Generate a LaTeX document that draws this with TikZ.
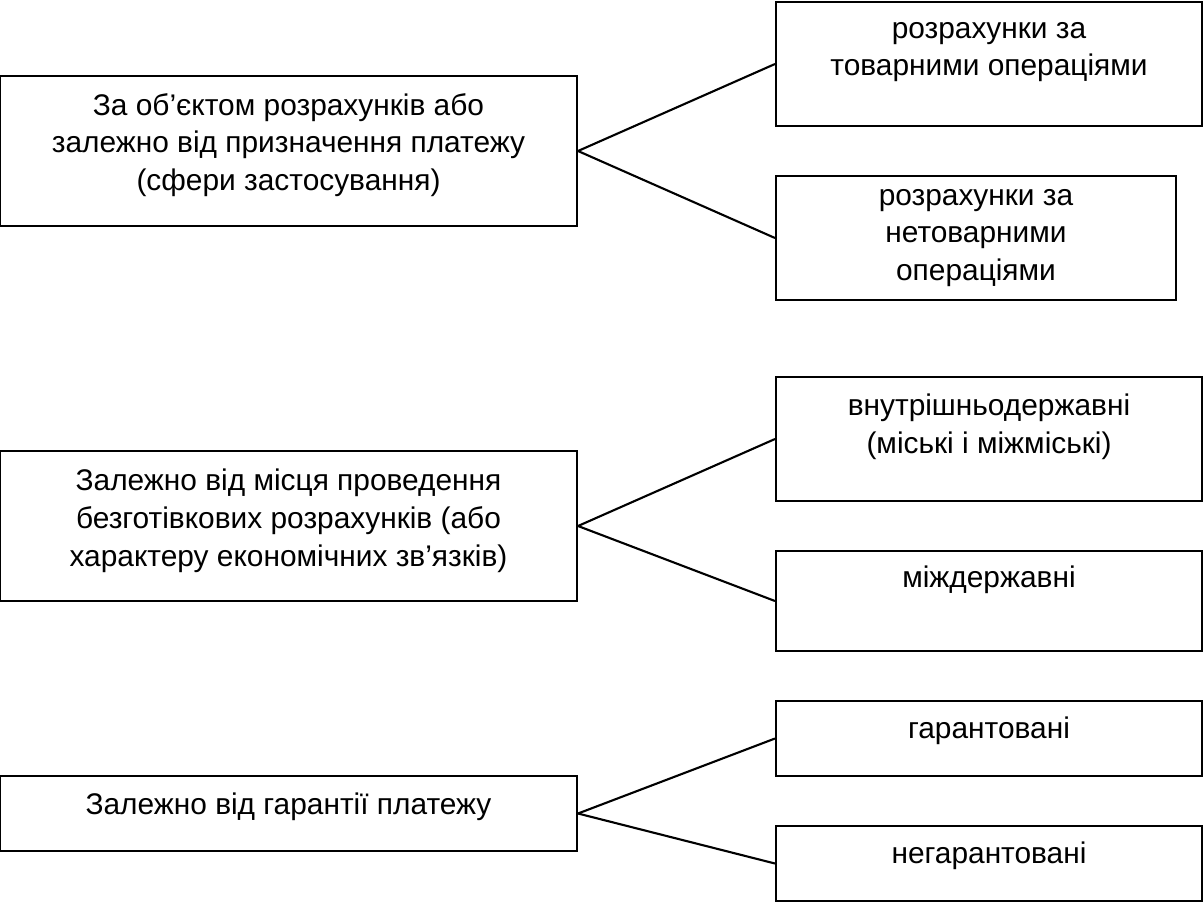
\documentclass[tikz,border=0pt]{standalone}
\usepackage{fontspec}
\setmainfont{Liberation Sans}
\begin{document}
\begin{tikzpicture}[x=0.02cm,y=-0.02cm,
    box/.style={draw,line width=1.2pt,inner sep=0pt},
    txt/.style={align=center,font=\fontsize{17}{21.5}\selectfont,inner sep=0pt}]
    \useasboundingbox (0,0) rectangle (1203,903);
    % left boxes
    \node[box,minimum width=11.54cm,minimum height=3cm] (kind1) at (288.5,151) {};
    \node[box,minimum width=11.54cm,minimum height=3cm] (kind2) at (288.5,526) {};
    \node[box,minimum width=11.54cm,minimum height=1.5cm] (kind3) at (288.5,813.5) {};
    \node[txt] at (288.5,145) {За об’єктом розрахунків або\\залежно від призначення платежу\\(сфери застосування)};
    \node[txt] at (288.5,521) {Залежно від місця проведення\\безготівкових розрахунків (або\\характеру економічних зв’язків)};
    \node[txt] at (288.5,807) {Залежно від гарантії платежу};
    % right boxes
    \node[box,minimum width=8.52cm,minimum height=2.48cm] (goods) at (989,64) {};
    \node[box,minimum width=8cm,minimum height=2.48cm] (nongoods) at (976,238) {};
    \node[box,minimum width=8.52cm,minimum height=2.48cm] (inner) at (989,439) {};
    \node[box,minimum width=8.52cm,minimum height=2cm] (inter) at (989,601) {};
    \node[box,minimum width=8.52cm,minimum height=1.5cm] (guar) at (989,738.5) {};
    \node[box,minimum width=8.52cm,minimum height=1.5cm] (nonguar) at (989,863.5) {};
    \node[txt] at (989,52) {розрахунки за\\товарними операціями};
    \node[txt] at (976,238) {розрахунки за\\нетоварними\\операціями};
    \node[txt] at (989,427) {внутрішньодержавні\\(міські і міжміські)};
    \node[txt] at (989,580) {міждержавні};
    \node[txt] at (989,731) {гарантовані};
    \node[txt] at (989,856) {негарантовані};
    % connectors
    \foreach \a/\b in {kind1/goods,kind1/nongoods,kind2/inner,kind2/inter,kind3/guar,kind3/nonguar} {
        \draw[line width=1.2pt] (\a.east) -- (\b.west);
    }
\end{tikzpicture}
\end{document}
